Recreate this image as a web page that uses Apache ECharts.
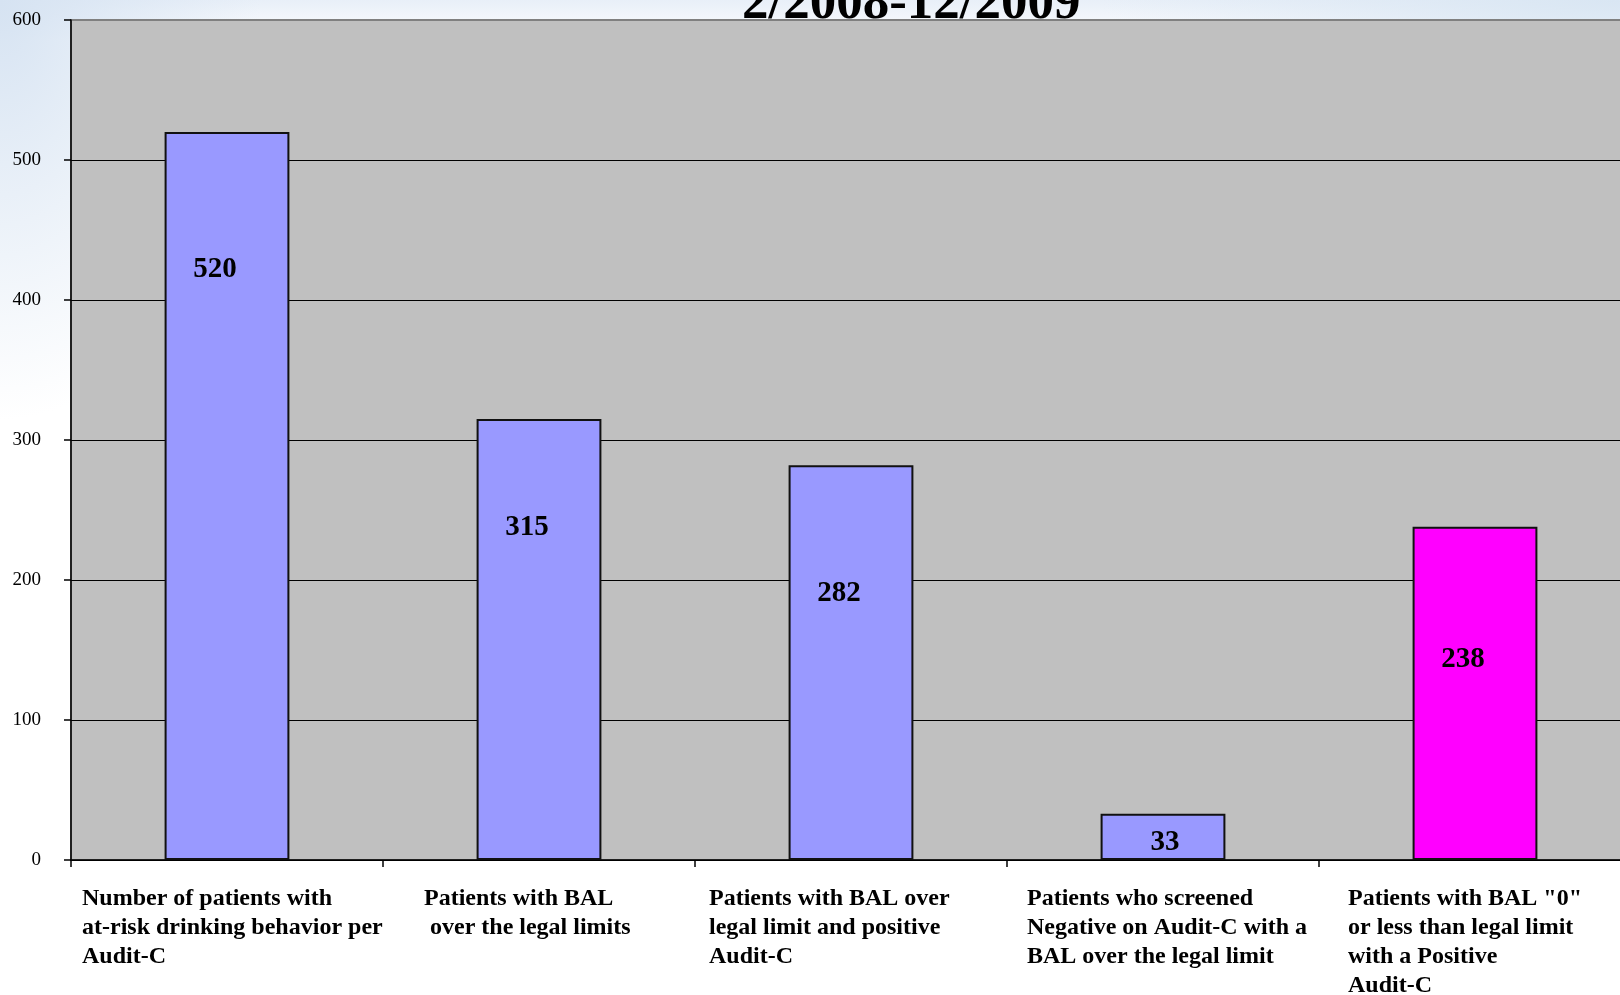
<!DOCTYPE html>
<html>
<head>
<meta charset="utf-8">
<script src="https://cdn.jsdelivr.net/npm/echarts@6/dist/echarts.min.js"></script>
<style>
  html, body { margin: 0; padding: 0; background: #ffffff; }
  #chart {
    width: 1620px;
    height: 995px;
    background:
      radial-gradient(ellipse 260px 420px at 0 0, #d6e3f2 0%, rgba(255,255,255,0) 100%),
      radial-gradient(ellipse 520px 90px at 100% 0, #d9e6f3 0%, rgba(255,255,255,0) 100%),
      linear-gradient(to bottom, #e8eff8 0, #ffffff 40px);
  }
</style>
</head>
<body>
<div id="chart"></div>
<script>
  // data
  var categories = [
    'Number of patients with\nat-risk drinking behavior per\nAudit-C',
    'Patients with BAL\n over the legal limits',
    'Patients with BAL over\nlegal limit and positive\nAudit-C',
    'Patients who screened\nNegative on Audit-C with a\nBAL over the legal limit',
    'Patients with BAL "0"\nor less than legal limit\nwith a Positive\nAudit-C'
  ]
  var counts = [520, 315, 282, 33, 238]
  var yTicks = [0, 100, 200, 300, 400, 500, 600]
  var titleText = '2/2008-12/2009'
  var highlightIndex = 4

  var serif = '"Liberation Serif", "Times New Roman", serif'
  // width of each label block, so lines sit left aligned like the original text boxes
  var labelBoxWidths = [290, 230, 284, 272, 254]
  // how far below the bar top each number sits (the original labels were placed by hand)
  var labelDistances = [123, 94, 114, 0, 118]

  var rich = {}
  labelBoxWidths.forEach(function (w, i) {
    rich['c' + i] = {
      align: 'left',
      width: w,
      fontFamily: serif,
      fontWeight: 'bold',
      fontSize: 24,
      lineHeight: 29,
      color: '#000'
    }
  })

  var chart = echarts.init(document.getElementById('chart'))
  var option = {
    backgroundColor: 'transparent',
    animation: false,
    title: {
      text: titleText,
      left: 737,
      top: -27,
      textStyle: {
        fontFamily: serif,
        fontWeight: 'bold',
        fontSize: 53,
        lineHeight: 53,
        color: '#000'
      }
    },
    grid: {
      left: 71,
      right: -11,
      top: 20,
      bottom: 135,
      outerBoundsMode: 'none',
      containLabel: false,
      show: true,
      backgroundColor: '#c0c0c0',
      borderColor: '#808080',
      borderWidth: 2
    },
    xAxis: {
      type: 'category',
      data: categories,
      axisLine: {lineStyle: {color: '#000', width: 1.5}},
      axisTick: {show: true, length: 7, lineStyle: {color: '#000', width: 1.5}},
      axisLabel: {
        interval: 0,
        margin: 24,
        formatter: function (value, idx) {
          return value.split('\n').map(function (l) {
            return '{c' + idx + '|' + l + '}'
          }).join('\n')
        },
        rich: rich
      }
    },
    yAxis: {
      type: 'value',
      min: yTicks[0],
      max: yTicks[yTicks.length - 1],
      interval: yTicks[1] - yTicks[0],
      axisLine: {show: true, lineStyle: {color: '#000', width: 1.5}},
      axisTick: {show: true, length: 7, lineStyle: {color: '#000', width: 1.5}},
      axisLabel: {
        margin: 30,
        fontFamily: serif,
        fontSize: 19,
        color: '#000'
      },
      splitLine: {
        show: true,
        lineStyle: {
          color: ['#000', '#000', '#000', '#000', '#000', '#000', '#808080'],
          width: 1.2
        }
      }
    },
    series: [
      {
        type: 'bar',
        barWidth: '40%',
        itemStyle: {
          color: '#9999ff',
          borderColor: '#111',
          borderWidth: 2
        },
        label: {
          show: true,
          position: 'insideTop',
          offset: [-12, 0],
          fontFamily: serif,
          fontWeight: 'bold',
          fontSize: 29,
          color: '#000'
        },
        data: counts.map(function (v, i) {
          var item = {value: v, label: {distance: labelDistances[i]}}
          if (i === highlightIndex) item.itemStyle = {color: '#ff00ff'}
          // short bars get their number in the middle
          if (v < 100) item.label = {position: 'inside', offset: [2, 6]}
          return item
        })
      }
    ]
  }
  chart.setOption(option)
</script>
</body>
</html>
